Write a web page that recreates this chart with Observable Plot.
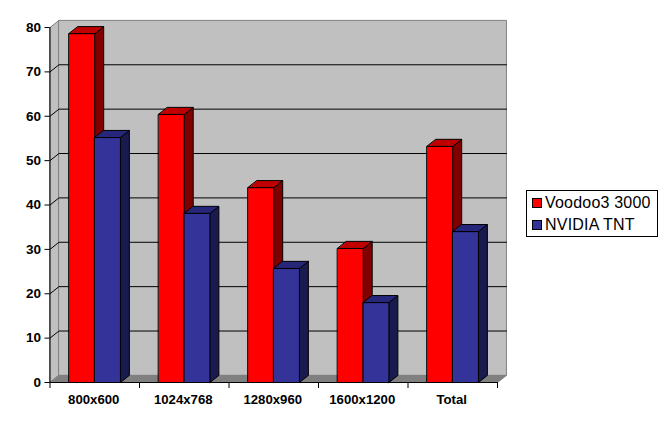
<!DOCTYPE html>
<html><head><meta charset="utf-8">
<script src="https://cdn.jsdelivr.net/npm/d3@7"></script>
<script src="https://cdn.jsdelivr.net/npm/@observablehq/plot@0.6"></script>
<style>
html,body{margin:0;padding:0;background:#fff}
#wrap{position:relative;width:667px;height:427px;overflow:hidden}
#legend{position:absolute;left:526px;top:190px;width:130px;height:45px;border:1px solid #000;box-sizing:content-box;font:16px "Liberation Sans",Arial,sans-serif;color:#000;background:#fff}
#legend div{position:absolute;left:5px;height:22px;line-height:22px;white-space:nowrap;letter-spacing:.2px}
#legend i{display:inline-block;width:8px;height:8px;border:1px solid #000;margin-right:3px;vertical-align:0}
</style></head><body><div id="wrap"></div>
<script>
const categories = ["800x600","1024x768","1280x960","1600x1200","Total"];
const voodoo = [78.6,60.4,43.9,30.2,53.2];
const tnt = [55.2,38.1,25.7,18.0,34.0];
const seriesNames = ["Voodoo3 3000","NVIDIA TNT"];
const yTicks = [0,10,20,30,40,50,60,70,80];
const gridValues = [10,20,30,40,50,60,70];
const palette = [
  {front:"#ff0000",top:"#c00000",side:"#800000"},
  {front:"#333399",top:"#26267a",side:"#191a4d"}
];
const wallFill="#c0c0c0", floorFill="#808080", wallEdge="#808080";
const depthX=0.1, depthY=1.6;       // oblique offset, in data units
const barInset=0.213, barWidth=0.287;

const faces=[];
const poly=(id,fill,stroke,pts)=>pts.forEach(p=>faces.push({id,fill,stroke,x:p[0],y:p[1]}));
const n=categories.length;
poly("wallL",wallFill,wallEdge,[[0,0],[depthX,depthY],[depthX,80+depthY],[0,80]]);
poly("wallB",wallFill,wallEdge,[[depthX,depthY],[n+depthX,depthY],[n+depthX,80+depthY],[depthX,80+depthY]]);
poly("floor",floorFill,wallEdge,[[0,0],[n,0],[n+depthX,depthY],[depthX,depthY]]);
const grid=gridValues.flatMap(v=>[[0,v],[depthX,v+depthY],[n+depthX,v+depthY]].map(p=>({v,x:p[0],y:p[1]})));

categories.forEach((c,i)=>{
  [voodoo[i],tnt[i]].forEach((v,s)=>{
    const a=i+barInset+s*barWidth,b=a+barWidth,k=palette[s],id=c+"-"+s;
    poly(id+"side",k.side,"#000",[[b,0],[b+depthX,depthY],[b+depthX,v+depthY],[b,v]]);
    poly(id+"top",k.top,"#000",[[a,v],[b,v],[b+depthX,v+depthY],[a+depthX,v+depthY]]);
    poly(id+"front",k.front,"#000",[[a,0],[b,0],[b,v],[a,v]]);
  });
});
const isWall=d=>["wallL","wallB","floor"].includes(d.id);
const faceMark=data=>Plot.line(data,{x:"x",y:"y",z:"id",fill:"fill",stroke:"stroke",strokeWidth:1,curve:"linear-closed"});

const chart=Plot.plot({
  width:667,height:427,
  marginLeft:49.5,marginRight:170,marginTop:27,marginBottom:45,
  style:{background:"transparent",fontFamily:"'Liberation Sans',Arial,sans-serif"},
  x:{type:"linear",domain:[0,n]},
  y:{domain:[0,80]},
  color:{type:"identity"},
  marks:[
    faceMark(faces.filter(isWall)),
    Plot.line(grid,{x:"x",y:"y",z:"v",stroke:"#000",strokeWidth:1}),
    faceMark(faces.filter(d=>!isWall(d))),
    Plot.ruleX([0],{y1:0,y2:80,stroke:"#000"}),
    Plot.ruleY([0],{x1:0,x2:n,stroke:"#000"}),
    Plot.axisY({ticks:yTicks,tickSize:5,tickPadding:4,label:null,fontSize:13.5,fontWeight:"bold",stroke:"#000",color:"#000"}),
    Plot.axisX({ticks:d3.range(n+1),tickSize:6,tickFormat:()=>"",label:null}),
    Plot.axisX({ticks:categories.map((c,i)=>i+.5),tickSize:0,tickPadding:12,dx:-1,tickFormat:t=>categories[t-.5],label:null,fontSize:13.2,fontWeight:"bold",color:"#000"})
  ]
});
const wrap=document.getElementById("wrap");
wrap.appendChild(chart);
const legend=document.createElement("div");legend.id="legend";
seriesNames.forEach((s,i)=>{
  const d=document.createElement("div");d.style.top=(i*22+1)+"px";
  const sw=document.createElement("i");sw.style.background=palette[i].front;
  d.appendChild(sw);d.appendChild(document.createTextNode(s));legend.appendChild(d);
});
wrap.appendChild(legend);
</script></body></html>
